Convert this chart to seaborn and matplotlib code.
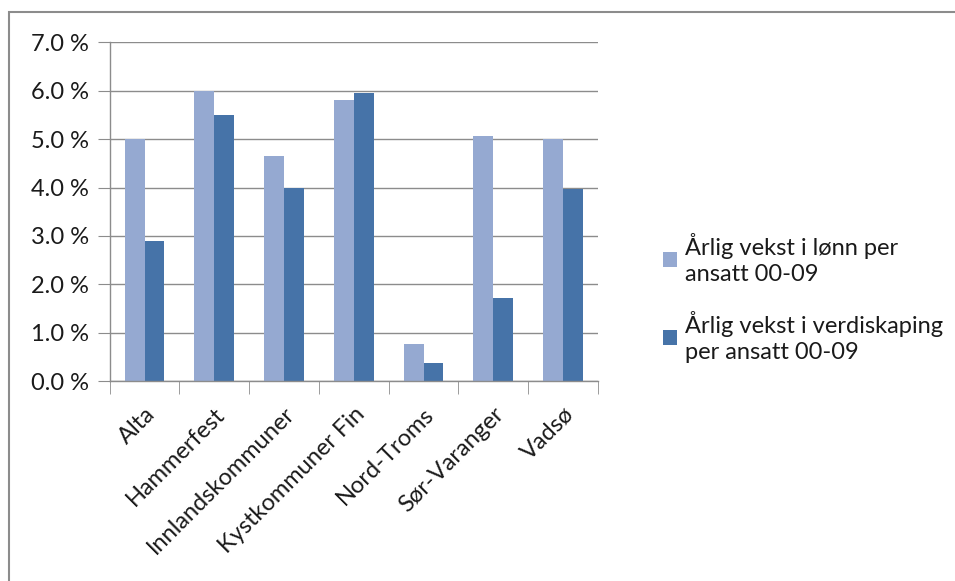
import pandas as pd
import numpy as np
import matplotlib
matplotlib.use("Agg")
import matplotlib.pyplot as plt
import matplotlib.ticker as mticker
from matplotlib.patches import Rectangle
import seaborn as sns

regions = ["Alta", "Hammerfest", "Innlandskommuner", "Kystkommuner Fin",
           "Nord-Troms", "Sør-Varanger", "Vadsø"]
series_names = ["Årlig vekst i lønn per\nansatt 00-09",
                "Årlig vekst i verdiskaping\nper ansatt 00-09"]
wage_growth = [5.01, 6.00, 4.66, 5.80, 0.76, 5.06, 5.01]
value_growth = [2.89, 5.50, 4.00, 5.95, 0.37, 1.72, 3.97]
y_ticks = [0, 1, 2, 3, 4, 5, 6, 7]

df = pd.DataFrame({
    "Region": regions * 2,
    "Serie": [series_names[0]] * len(regions) + [series_names[1]] * len(regions),
    "Vekst": wage_growth + value_growth,
})

sns.set_style("white")
plt.rcParams["font.family"] = ["Lato", "DejaVu Sans"]

fig = plt.figure(figsize=(9.55, 5.81), dpi=100)
ax = fig.add_axes([0.1149, 0.344, 0.5111, 0.583])

palette = {series_names[0]: "#95a9d1", series_names[1]: "#4673a8"}
sns.barplot(data=df, x="Region", y="Vekst", hue="Serie", palette=palette,
            width=0.57, saturation=1, linewidth=0, ax=ax, legend=True)

ax.set_xlim(-0.5, len(regions) - 0.5)
ax.set_ylim(0, 7)
ax.set_yticks(y_ticks)
ax.yaxis.set_major_formatter(mticker.FuncFormatter(lambda v, p: f"{v:.1f} %"))
ax.yaxis.grid(True, color="#8c8c8c", linewidth=1)
ax.set_axisbelow(True)
ax.set_xlabel("")
ax.set_ylabel("")

for s in ["top", "right"]:
    ax.spines[s].set_visible(False)
for s in ["left", "bottom"]:
    ax.spines[s].set_color("#8c8c8c")
    ax.spines[s].set_linewidth(1)

ax.tick_params(axis="y", left=True, length=9, color="#8c8c8c", labelsize=17,
               labelcolor="#1a1a1a", pad=6)
ax.set_xticks(range(len(regions)))
ax.set_xticklabels(regions, rotation=45, ha="right", rotation_mode="anchor",
                   fontsize=17, color="#1a1a1a")
ax.tick_params(axis="x", which="major", length=0, pad=16)
ax.set_xticks(np.arange(-0.5, len(regions), 1), minor=True)
ax.tick_params(axis="x", which="minor", bottom=True, length=9, color="#8c8c8c")

handles, labels = ax.get_legend_handles_labels()
ax.get_legend().remove()
leg = fig.legend(handles, labels, loc="center left", bbox_to_anchor=(0.672, 0.487),
                 frameon=False, fontsize=17, handlelength=0.6, handleheight=0.6,
                 handletextpad=0.35, labelspacing=1.1, labelcolor="#1a1a1a")
for t in leg.get_texts():
    t.set_linespacing(1.3)

fig.patches.append(Rectangle((0.0094, -0.05), 1.2, 1.029, transform=fig.transFigure,
                             fill=False, edgecolor="#8c8c8c", linewidth=1.5))

fig.savefig("out.png", dpi=100)
